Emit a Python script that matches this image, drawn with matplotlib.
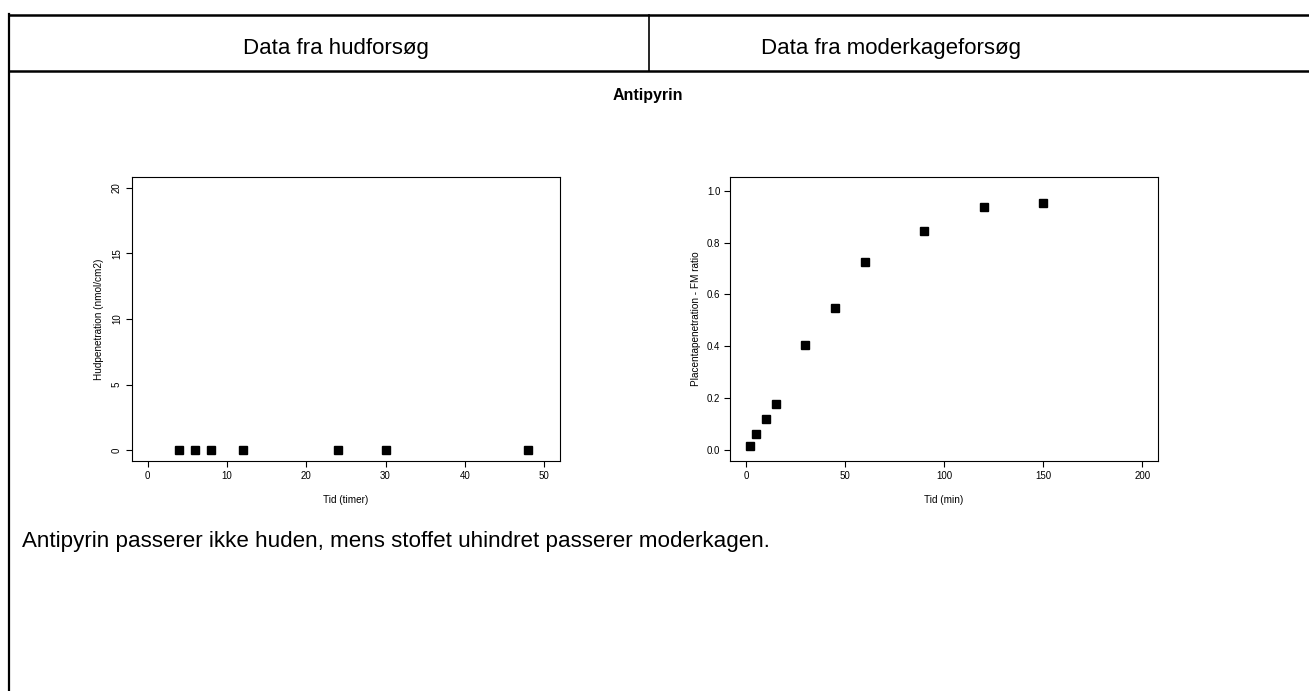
import matplotlib.pyplot as plt
from matplotlib.lines import Line2D

# hudforsøg: tid i timer, penetration i nmol/cm2
hud_tid = [4, 6, 8, 12, 24, 30, 48]
hud_pen = [0, 0, 0, 0, 0, 0, 0]

# moderkageforsøg: tid i minutter, føtal/maternel ratio
plac_tid = [2, 5, 10, 15, 30, 45, 60, 90, 120, 150]
plac_ratio = [0.017, 0.063, 0.121, 0.177, 0.407, 0.549, 0.727, 0.843, 0.937, 0.952]

hud_xticks = [0, 10, 20, 30, 40, 50]
hud_yticks = [0, 5, 10, 15, 20]
plac_xticks = [0, 50, 100, 150, 200]
plac_yticks = [0.0, 0.2, 0.4, 0.6, 0.8, 1.0]

W, H = 1309, 691
plt.rcParams['font.family'] = ['Liberation Sans', 'DejaVu Sans']
fig = plt.figure(figsize=(W / 100, H / 100), dpi=100)

# tabellen rundt om figurerne, tegnet i pixel-koordinater
tab = fig.add_axes([0, 0, 1, 1], zorder=0)
tab.set_xlim(0, W)
tab.set_ylim(H, 0)
tab.axis('off')
tab.add_line(Line2D([9, W], [15, 15], color='black', lw=1.8))
tab.add_line(Line2D([9, W], [71, 71], color='black', lw=1.8))
tab.add_line(Line2D([9, 9], [14, H], color='black', lw=1.6))
tab.add_line(Line2D([649, 649], [15, 71], color='black', lw=1.2))

tab.text(336, 54, 'Data fra hudforsøg', fontsize=16,
         ha='center', va='baseline')
tab.text(891, 54, 'Data fra moderkageforsøg', fontsize=16,
         ha='center', va='baseline')
tab.text(648, 100, 'Antipyrin', fontsize=11.5, weight='bold',
         ha='center', va='baseline')
tab.text(22, 547, 'Antipyrin passerer ikke huden, mens stoffet uhindret passerer moderkagen.',
         fontsize=16.15, ha='left', va='baseline')


def style(ax):
    for s in ax.spines.values():
        s.set_linewidth(0.8)
    ax.tick_params(direction='out', length=4.5, width=0.8, labelsize=7, pad=2.5)


# venstre: hudpenetration
ax1 = fig.add_axes([131.7 / W, 1 - 461 / H, 428.3 / W, 284 / H], zorder=1)
ax1.plot(hud_tid, hud_pen, 's', color='black', markersize=5.6)
ax1.set_xlim(-2, 52)
ax1.set_ylim(-0.8, 20.8)
ax1.set_xticks(hud_xticks)
ax1.set_yticks(hud_yticks)
style(ax1)
for lab in ax1.get_yticklabels():
    lab.set_rotation(90)
    lab.set_va('center')
ax1.set_xlabel('Tid (timer)', fontsize=7.2, labelpad=10)
ax1.set_ylabel('Hudpenetration (nmol/cm2)', fontsize=7.2, labelpad=6)

# højre: placentapenetration
ax2 = fig.add_axes([730 / W, 1 - 461 / H, 428 / W, 284 / H], zorder=1)
ax2.plot(plac_tid, plac_ratio, 's', color='black', markersize=5.6)
ax2.set_xlim(-8, 208)
ax2.set_ylim(-0.042, 1.053)
ax2.set_xticks(plac_xticks)
ax2.set_yticks(plac_yticks)
ax2.set_yticklabels([f'{v:.1f}' for v in plac_yticks])
style(ax2)
ax2.set_xlabel('Tid (min)', fontsize=7.2, labelpad=10)
ax2.set_ylabel('Placentapenetration - FM ratio', fontsize=7.2, labelpad=4)

fig.savefig('out.png', dpi=100)
